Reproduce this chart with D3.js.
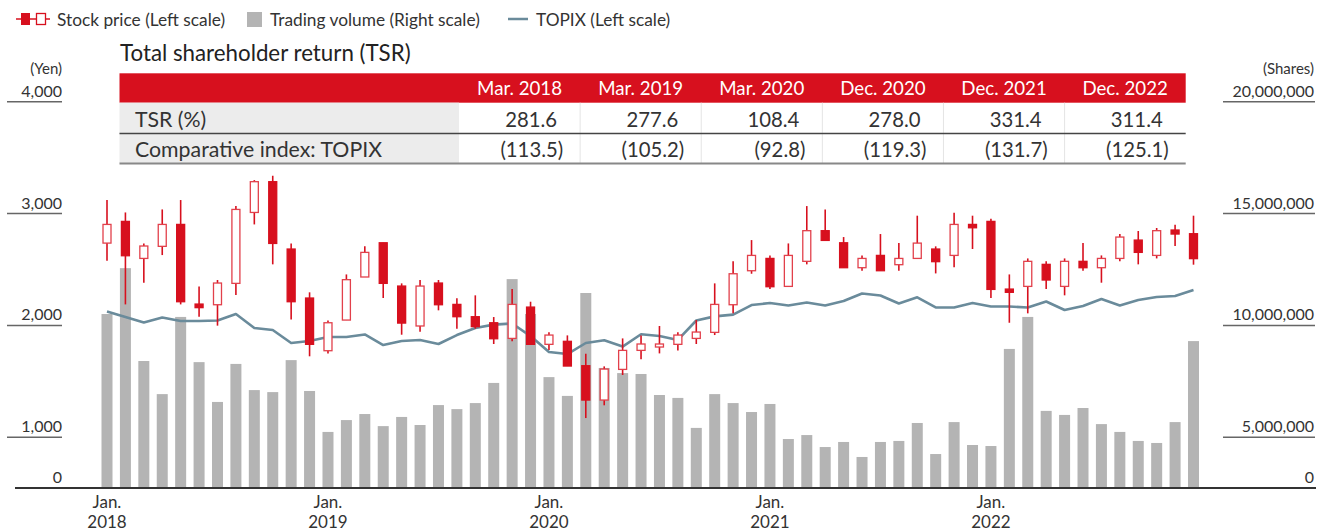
<!DOCTYPE html>
<html>
<head>
<meta charset="utf-8">
<script src="https://cdn.jsdelivr.net/npm/d3@7"></script>
<style>
  body { margin: 0; background: #fff; }
  svg text { font-family: Lato, "Open Sans", sans-serif; fill: #333; }
</style>
</head>
<body>
<div id="chart"></div>
<script>
// months Jan 2018 .. Dec 2022
var years = [2018, 2019, 2020, 2021, 2022];
var monthNames = ["Jan.", "Feb.", "Mar.", "Apr.", "May", "Jun.", "Jul.", "Aug.", "Sep.", "Oct.", "Nov.", "Dec."];
var months = [];
years.forEach(function(y) { monthNames.forEach(function(m) { months.push(m + " " + y); }); });

// stock price (yen)
var open = [2736, 2930, 2599, 2707, 2903, 2191, 2185, 2376, 3010, 3285, 2683, 2245,
            1774, 2048, 2433, 2739, 2352, 1995, 2379, 2188, 2078, 2024, 1884, 2164,
            1831, 1858, 1640, 1333, 1607, 1777, 1807, 1831, 1884, 1938, 2185, 2489,
            2599, 2349, 2573, 2847, 2739, 2516, 2626, 2543, 2599, 2683, 2626, 2903,
            2930, 2325, 2349, 2546, 2349, 2573, 2516, 2599, 2763, 2626, 2853, 2820];
var high = [3121, 3010, 2733, 3037, 3121, 2349, 2406, 3067, 3299, 3338, 2733, 2296,
            2045, 2456, 2707, 2739, 2376, 2406, 2406, 2242, 2269, 2075, 2325, 2212,
            1938, 1911, 1747, 1634, 1884, 1911, 1995, 1938, 2048, 2376, 2573, 2763,
            2626, 2733, 3067, 3037, 2790, 2626, 2817, 2736, 2981, 2707, 3008, 2981,
            2954, 2456, 2599, 2573, 2599, 2736, 2626, 2817, 2844, 2871, 2900, 2981];
var low = [2579, 2188, 2382, 2629, 2188, 2078, 1998, 2272, 2903, 2546, 2054, 1724,
           1750, 2048, 2433, 2245, 1917, 1944, 2135, 1971, 1971, 1834, 1858, 1831,
           1780, 1637, 1172, 1286, 1557, 1697, 1750, 1777, 1834, 1914, 2108, 2462,
           2325, 2349, 2546, 2760, 2516, 2489, 2489, 2489, 2599, 2465, 2519, 2683,
           2245, 2024, 2108, 2325, 2269, 2489, 2382, 2573, 2546, 2599, 2710, 2543];
var close = [2903, 2623, 2710, 2903, 2212, 2159, 2379, 3037, 3285, 2733, 2212, 1831,
             2024, 2409, 2653, 2376, 2021, 2352, 2185, 2078, 1989, 1881, 2188, 1831,
             1914, 1637, 1333, 1610, 1777, 1834, 1834, 1914, 1941, 2188, 2462, 2626,
             2346, 2626, 2847, 2760, 2516, 2599, 2489, 2599, 2736, 2570, 2903, 2873,
             2322, 2296, 2573, 2406, 2573, 2516, 2599, 2790, 2653, 2847, 2817, 2597];

// trading volume (millions of shares)
var volume = [10.51, 12.56, 8.41, 6.93, 10.38, 8.36, 6.58, 8.28, 7.11, 7.02, 8.45, 7.07,
              5.24, 5.77, 6.04, 5.50, 5.91, 5.55, 6.44, 6.26, 6.53, 7.43, 12.07, 10.51,
              7.69, 6.85, 11.45, 8.10, 7.87, 7.83, 6.89, 6.76, 5.42, 6.93, 6.53, 6.13,
              6.49, 4.83, 5.10, 4.04, 4.54, 3.06, 4.54, 4.64, 5.64, 3.35, 5.68, 4.24,
              4.14, 8.95, 10.38, 6.18, 6.00, 6.31, 5.59, 5.24, 4.64, 4.44, 5.68, 9.30];

// TOPIX (left scale)
var topix = [2125, 2075, 2026, 2071, 2039, 2039, 2044, 2102, 1977, 1959, 1843, 1861,
             1896, 1896, 1919, 1825, 1861, 1870, 1834, 1914, 1977, 2007, 2017, 1905,
             1762, 1744, 1843, 1867, 1811, 1921, 1905, 1870, 2044, 2081, 2097, 2182,
             2200, 2178, 2205, 2178, 2218, 2285, 2267, 2196, 2251, 2161, 2160, 2200,
             2169, 2169, 2160, 2214, 2138, 2173, 2236, 2178, 2227, 2254, 2263, 2316];

// TSR table
var tsrPeriods = ["Mar. 2018", "Mar. 2019", "Mar. 2020", "Dec. 2020", "Dec. 2021", "Dec. 2022"];
var tsrValues = ["281.6", "277.6", "108.4", "278.0", "331.4", "311.4"];
var tsrTopix = ["(113.5)", "(105.2)", "(92.8)", "(119.3)", "(131.7)", "(125.1)"];

var priceTicks = [0, 1000, 2000, 3000, 4000];
var volumeTicks = [0, 5, 10, 15, 20];

var red = "#d7101e", gray = "#b4b4b4", topixColor = "#6a8b9b";

var svg = d3.select("#chart").append("svg")
  .attr("width", 1334).attr("height", 531);

var x = d3.scalePoint().domain(months).range([107, 1193.5]);
// axis is broken below 1,000 / 5,000,000
var yPrice = d3.scaleLinear().domain([0, 1000, 4000]).range([488, 437.3, 101.7]);
var yVol = d3.scaleLinear().domain([0, 5, 20]).range([488, 437.3, 101.7]);

// legend
var lg = svg.append("g");
lg.append("line").attr("x1", 16).attr("x2", 50).attr("y1", 19).attr("y2", 19)
  .attr("stroke", red).attr("stroke-width", 1.5);
lg.append("rect").attr("x", 21).attr("y", 13).attr("width", 9).attr("height", 12).attr("fill", red);
lg.append("rect").attr("x", 36.5).attr("y", 13.5).attr("width", 9).attr("height", 11)
  .attr("fill", "#fff").attr("stroke", red).attr("stroke-width", 1.3);
lg.append("text").attr("x", 57).attr("y", 25.5).style("font-size", "17.3px").text("Stock price (Left scale)");
lg.append("rect").attr("x", 247).attr("y", 12).attr("width", 15).attr("height", 15).attr("fill", gray);
lg.append("text").attr("x", 270).attr("y", 25.5).style("font-size", "17.3px").text("Trading volume (Right scale)");
lg.append("line").attr("x1", 508).attr("x2", 528).attr("y1", 19).attr("y2", 19)
  .attr("stroke", topixColor).attr("stroke-width", 2.5);
lg.append("text").attr("x", 536).attr("y", 25.5).style("font-size", "17.3px").text("TOPIX (Left scale)");

// title
svg.append("text").attr("x", 120).attr("y", 61).style("font-size", "22.3px").style("fill", "#222")
  .text("Total shareholder return (TSR)");

// axes (tick lines under the labels)
svg.append("text").attr("x", 62).attr("y", 74).attr("text-anchor", "end").style("font-size", "15px").text("(Yen)");
svg.append("text").attr("x", 1314).attr("y", 74).attr("text-anchor", "end").style("font-size", "15px").text("(Shares)");

priceTicks.forEach(function(v) {
  if (v > 0) svg.append("line").attr("x1", 7).attr("x2", 62).attr("y1", yPrice(v)).attr("y2", yPrice(v))
    .attr("stroke", "#666").attr("stroke-width", 1.5);
  svg.append("text").attr("x", 62).attr("y", yPrice(v) - 5).attr("text-anchor", "end")
    .style("font-size", "16px").text(d3.format(",")(v));
});
volumeTicks.forEach(function(v) {
  if (v > 0) svg.append("line").attr("x1", 1223).attr("x2", 1315).attr("y1", yVol(v)).attr("y2", yVol(v))
    .attr("stroke", "#666").attr("stroke-width", 1.5);
  svg.append("text").attr("x", 1314).attr("y", yVol(v) - 5).attr("text-anchor", "end")
    .style("font-size", "16px").text(d3.format(",")(v * 1e6));
});

// volume bars
svg.append("g").selectAll("rect").data(volume).join("rect")
  .attr("x", function(d, i) { return x(months[i]) - 5.5; })
  .attr("width", 11)
  .attr("y", function(d) { return yVol(d); })
  .attr("height", function(d) { return yVol(0) - yVol(d); })
  .attr("fill", gray);

// baseline
svg.append("line").attr("x1", 15).attr("x2", 1316).attr("y1", yPrice(0)).attr("y2", yPrice(0))
  .attr("stroke", "#333").attr("stroke-width", 2);

// TOPIX line
var line = d3.line()
  .x(function(d, i) { return x(months[i]); })
  .y(function(d) { return yPrice(d); });
svg.append("path").datum(topix).attr("d", line)
  .attr("fill", "none").attr("stroke", topixColor).attr("stroke-width", 2.6)
  .attr("stroke-linejoin", "round");

// candles
var candles = svg.append("g").selectAll("g").data(months).join("g");
candles.append("line")
  .attr("x1", function(d) { return x(d); }).attr("x2", function(d) { return x(d); })
  .attr("y1", function(d, i) { return yPrice(high[i]); })
  .attr("y2", function(d, i) { return yPrice(low[i]); })
  .attr("stroke", red).attr("stroke-width", 1.6);
candles.append("rect")
  .attr("x", function(d) { return x(d) - 4; })
  .attr("width", 8)
  .attr("y", function(d, i) { return yPrice(Math.max(open[i], close[i])); })
  .attr("height", function(d, i) { return Math.max(2, Math.abs(yPrice(open[i]) - yPrice(close[i]))); })
  .attr("fill", function(d, i) { return close[i] >= open[i] ? "#fff" : red; })
  .attr("stroke", function(d, i) { return close[i] >= open[i] ? "#e2404b" : red; })
  .attr("stroke-width", 1.3);

// x axis labels
months.forEach(function(m, i) {
  if (i % 12 !== 0) return;
  var t = svg.append("text").attr("x", x(m)).attr("text-anchor", "middle").style("font-size", "17px");
  t.append("tspan").attr("x", x(m)).attr("y", 508).text(m.split(" ")[0]);
  t.append("tspan").attr("x", x(m)).attr("y", 528).text(m.split(" ")[1]);
});

// TSR table
var tLeft = 119.5, tRight = 1185.7, labelRight = 459;
var colW = (tRight - labelRight) / tsrPeriods.length;
var tb = svg.append("g");
tb.append("rect").attr("x", tLeft).attr("y", 73.3).attr("width", tRight - tLeft).attr("height", 29.4).attr("fill", red);
tb.append("rect").attr("x", tLeft).attr("y", 102.7).attr("width", labelRight - tLeft).attr("height", 60.6).attr("fill", "#ececec");
tsrPeriods.forEach(function(p, j) {
  var cx = labelRight + colW * (j + 0.5), right = labelRight + colW * (j + 1);
  if (j > 0) tb.append("line").attr("x1", labelRight + colW * j).attr("x2", labelRight + colW * j)
    .attr("y1", 102.7).attr("y2", 163).attr("stroke", "#e4e4e4").attr("stroke-width", 1);
  tb.append("text").attr("x", cx).attr("y", 95).attr("text-anchor", "middle")
    .style("font-size", "18.7px").style("fill", "#fff").text(p);
  tb.append("text").attr("x", right - 23).attr("y", 126.5).attr("text-anchor", "end")
    .style("font-size", "20.3px").text(tsrValues[j]);
  tb.append("text").attr("x", right - 17).attr("y", 156.5).attr("text-anchor", "end")
    .style("font-size", "20.3px").text(tsrTopix[j]);
});
tb.append("line").attr("x1", tLeft).attr("x2", tRight).attr("y1", 133.5).attr("y2", 133.5)
  .attr("stroke", "#444").attr("stroke-width", 1.5);
tb.append("line").attr("x1", tLeft).attr("x2", tRight).attr("y1", 163.5).attr("y2", 163.5)
  .attr("stroke", "#888").attr("stroke-width", 2);
tb.append("text").attr("x", 135).attr("y", 126.5).style("font-size", "21.3px").text("TSR (%)");
tb.append("text").attr("x", 135).attr("y", 156.5).style("font-size", "21.3px").text("Comparative index: TOPIX");
</script>
</body>
</html>
